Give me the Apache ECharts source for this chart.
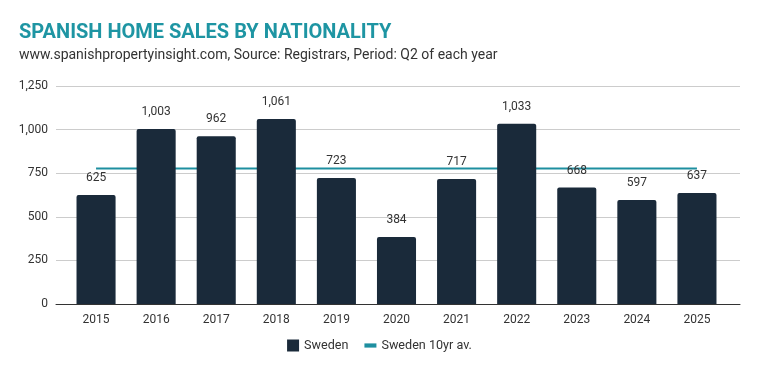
<!DOCTYPE html>
<html><head><meta charset="utf-8">
<script src="https://cdn.jsdelivr.net/npm/echarts@6/dist/echarts.min.js"></script>
<style>html,body{margin:0;padding:0;background:#fff}#c{width:759px;height:371px}</style>
</head><body><div id="c"></div>
<script>
const categories = ['2015','2016','2017','2018','2019','2020','2021','2022','2023','2024','2025'];
const sweden = [625,1003,962,1061,723,384,717,1033,668,597,637];
const swedenAvg = [777,777,777,777,777,777,777,777,777,777,777];
const yTicks = [0,250,500,750,1000,1250];

const chart = echarts.init(document.getElementById('c'), null, {renderer:'canvas'});
const font = 'Roboto';
const yMin = yTicks[0], yMax = yTicks[yTicks.length-1];
chart.setOption({
  animation:false,
  textStyle:{fontFamily:font},
  title:{
    text:'SPANISH HOME SALES BY NATIONALITY',
    subtext:'www.spanishpropertyinsight.com, Source: Registrars, Period: Q2 of each year',
    left:14, top:18, itemGap:5,
    textStyle:{fontFamily:font,fontSize:20,fontWeight:'bold',color:'#1e95a3'},
    subtextStyle:{fontFamily:font,fontSize:14,color:'#333'}
  },
  legend:{
    bottom:14, left:'center', itemGap:16,
    textStyle:{fontFamily:font,fontSize:12.6,color:'#333'},
    data:[
      {name:'Sweden', icon:'rect', itemStyle:{color:'#1a2a3a'}},
      {name:'Sweden 10yr av.', icon:'path://M0,0h10v3.5h-10z', itemStyle:{color:'#1e8fa0'}}
    ],
    itemWidth:12, itemHeight:12
  },
  grid:[
    {left:56, right:19, top:86, bottom:67},
    {left:66, right:32, top:86, bottom:67}
  ],
  xAxis:[
    {type:'value', gridIndex:0, min:0, max:1,
     axisLine:{show:true, onZero:false, lineStyle:{color:'#333'}},
     axisTick:{show:false}, axisLabel:{show:false}, splitLine:{show:false}},
    {type:'category', gridIndex:1, data:categories,
     axisLine:{show:false},
     axisTick:{show:false},
     axisLabel:{fontFamily:font,fontSize:12,color:'#333',margin:10}}
  ],
  yAxis:[
    {type:'value', gridIndex:0, min:yMin, max:yMax, interval:250,
     axisLine:{show:false}, axisTick:{show:false},
     splitLine:{lineStyle:{color:'#ccc'}},
     axisLabel:{fontFamily:font,fontSize:12,color:'#333',margin:8,
       formatter:v=>v.toLocaleString('en-US')}},
    {type:'value', gridIndex:1, min:yMin, max:yMax, interval:250,
     show:false}
  ],
  series:[
    {name:'Sweden', type:'bar', data:sweden, barWidth:'65%',
     xAxisIndex:1, yAxisIndex:1,
     itemStyle:{color:'#1a2a3a', borderRadius:[2,2,0,0]},
     label:{show:true, position:'top', distance:11, fontFamily:font, fontSize:12, color:'#333',
       formatter:p=>p.value.toLocaleString('en-US')},
     z:2},
    {name:'Sweden 10yr av.', type:'line', data:swedenAvg, symbol:'none',
     xAxisIndex:1, yAxisIndex:1,
     lineStyle:{color:'#1e8fa0', width:2}, itemStyle:{color:'#1e8fa0'}, z:1}
  ]
});
</script></body></html>
